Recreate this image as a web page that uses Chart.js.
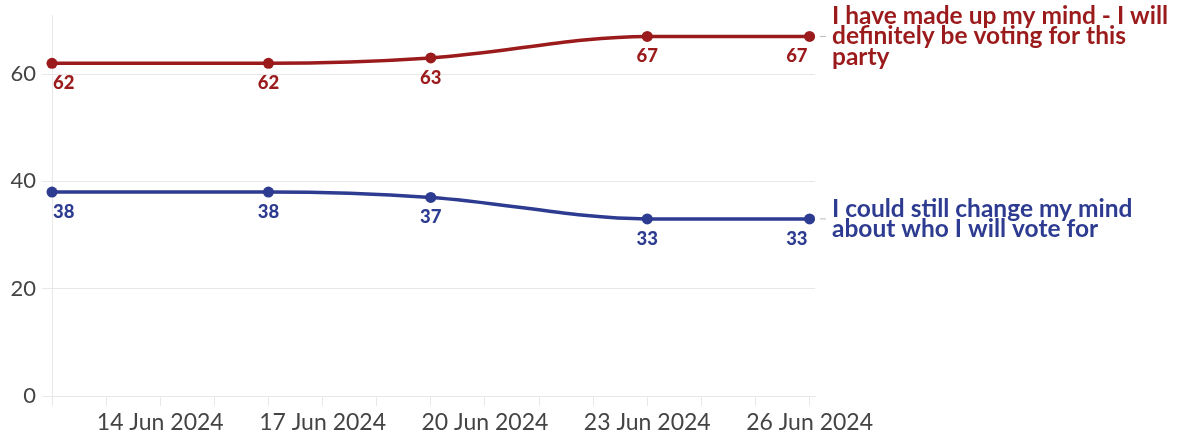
<!DOCTYPE html>
<html>
<head>
<meta charset="utf-8">
<script src="https://cdn.jsdelivr.net/npm/chart.js@4"></script>
<style>
  html, body { margin: 0; padding: 0; background: #fff; }
  #wrap { width: 1178px; height: 438px; }
</style>
</head>
<body>
<div id="wrap"><canvas id="chart" width="1178" height="438"></canvas></div>
<script>
// days of June 2024
const days = [12, 16, 19, 23, 26];
const decided = [62, 62, 63, 67, 67];
const couldChange = [38, 38, 37, 33, 33];
const yTicks = [0, 20, 40, 60];
const xTickDays = [12, 13, 14, 15, 16, 17, 18, 19, 20, 21, 22, 23, 24, 25, 26];
const labelDays = [14, 17, 20, 23, 26];
const decidedLabel = ["I have made up my mind - I will", "definitely be voting for this", "party"];
const changeLabel = ["I could still change my mind", "about who I will vote for"];

const RED = "#9b1b1d";
const BLUE = "#2d3b90";
const GRID = "#e8e8e8";
const FONT = "Lato, 'Open Sans', sans-serif";

function pts(ys) {
  return days.map((d, i) => ({ x: d, y: ys[i] }));
}

// value labels under points + line labels at the right end
const labelPlugin = {
  id: "labels",
  afterDatasetsDraw(chart) {
    const ctx = chart.ctx;
    const area = chart.chartArea;
    chart.data.datasets.forEach((ds, di) => {
      const meta = chart.getDatasetMeta(di);
      ctx.save();
      ctx.fillStyle = ds.borderColor;
      ctx.font = "900 18.5px " + FONT;
      ctx.textBaseline = "alphabetic";
      meta.data.forEach((p, i) => {
        const last = meta.data.length - 1;
        let x = p.x;
        if (i === 0) { ctx.textAlign = "left"; x = p.x + 1; }
        else if (i === last) { ctx.textAlign = "right"; x = p.x - 2; }
        else ctx.textAlign = "center";
        ctx.fillText(String(ds.data[i].y), x, p.y + 26);
      });
      // connector dash
      const end = meta.data[meta.data.length - 1];
      ctx.strokeStyle = "#bbbbbb";
      ctx.lineWidth = 1;
      ctx.beginPath();
      ctx.moveTo(area.right + 5, end.y);
      ctx.lineTo(area.right + 11, end.y);
      ctx.stroke();
      // series label
      const lines = ds.sideLabel;
      const lh = 20.5;
      ctx.font = "bold 24.5px " + FONT;
      ctx.textAlign = "left";
      const y0 = end.y - (lines.length - 1) * lh / 2 + 8;
      lines.forEach((t, k) => ctx.fillText(t, area.right + 17, y0 + k * lh));
      ctx.restore();
    });
  }
};

new Chart(document.getElementById("chart"), {
  type: "line",
  data: {
    datasets: [
      {
        label: decidedLabel.join(" "),
        sideLabel: decidedLabel,
        data: pts(decided),
        borderColor: RED,
        backgroundColor: RED,
        clip: false,
      },
      {
        label: changeLabel.join(" "),
        sideLabel: changeLabel,
        data: pts(couldChange),
        borderColor: BLUE,
        backgroundColor: BLUE,
        clip: false,
      },
    ],
  },
  options: {
    responsive: false,
    animation: false,
    layout: { padding: { top: 0, right: 363, left: 0, bottom: 0 } },
    elements: {
      line: { borderWidth: 3.5, cubicInterpolationMode: "monotone" },
      point: { radius: 5.5, hoverRadius: 5.5, borderWidth: 0 },
    },
    plugins: {
      legend: { display: false },
      tooltip: { enabled: false },
    },
    scales: {
      x: {
        type: "linear",
        min: 12,
        max: 26.1,
        afterBuildTicks: (s) => { s.ticks = xTickDays.map((v) => ({ value: v })); },
        afterFit: (s) => { s.height = 42; },
        ticks: {
          autoSkip: false,
          maxRotation: 0,
          padding: 3,
          color: "#444",
          font: { family: FONT, size: 23 },
          callback: (v) => (labelDays.includes(v) ? v + " Jun 2024" : ""),
        },
        grid: { drawOnChartArea: false, color: GRID, tickLength: 10 },
        border: { color: GRID },
      },
      y: {
        min: 0,
        max: 71,
        afterBuildTicks: (s) => { s.ticks = yTicks.map((v) => ({ value: v })); },
        afterFit: (s) => { s.width = 52; s.paddingTop = 15; s.paddingBottom = 0; },
        ticks: {
          padding: 6,
          color: "#444",
          font: { family: FONT, size: 22 },
        },
        grid: { color: GRID, tickLength: 10 },
        border: { color: GRID },
      },
    },
  },
  plugins: [labelPlugin],
});
</script>
</body>
</html>
